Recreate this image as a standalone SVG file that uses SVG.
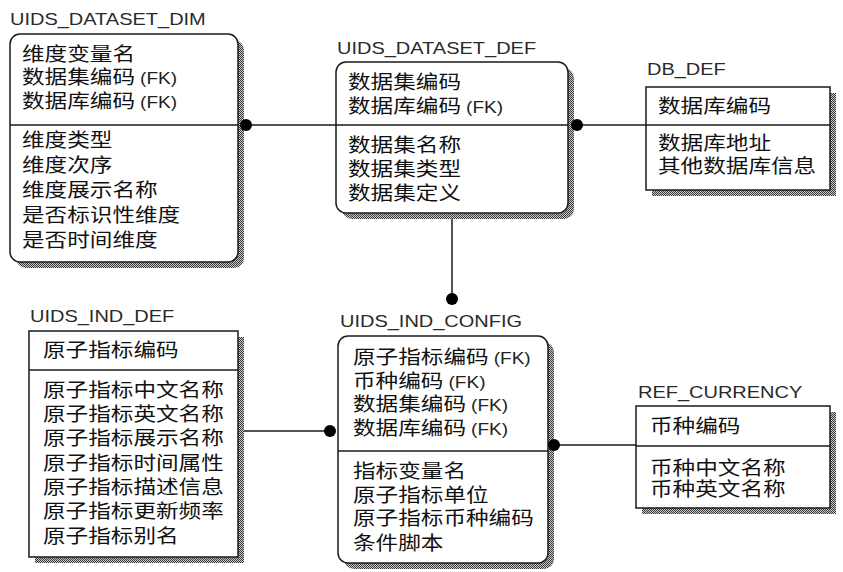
<svg xmlns="http://www.w3.org/2000/svg" width="843" height="572" viewBox="0 0 843 572">
<defs>
<pattern id="dither" width="2" height="2" patternUnits="userSpaceOnUse">
<rect width="2" height="2" fill="#c8c8c8"/>
<rect width="1" height="1" fill="#3a3a3a"/>
<rect x="1" y="1" width="1" height="1" fill="#3a3a3a"/>
</pattern>
<style>
.box{fill:#fff;stroke:#1a1a1a;stroke-width:1.5}
.shadow{fill:url(#dither);stroke:none}
.div{stroke:#1a1a1a;stroke-width:1.5}
.title{font-family:"Liberation Sans",Arial,sans-serif;font-size:16.8px;fill:#2a2a2a}
.t{font-family:"Noto Sans CJK SC","Noto Sans CJK TC",sans-serif;font-size:19px;fill:#111}
.fk{font-family:"Liberation Sans",Arial,sans-serif;font-size:16px;fill:#222}
.conn line{stroke:#1a1a1a;stroke-width:1.5}
.conn circle{fill:#000}
</style>
</defs>
<rect width="843" height="572" fill="#fff"/>

<g id="connectors" class="conn">
<line x1="246" y1="125" x2="336" y2="125"/>
<line x1="577" y1="125" x2="646" y2="125"/>
<line x1="452" y1="213" x2="452" y2="299"/>
<line x1="238" y1="431" x2="330" y2="431"/>
<line x1="554" y1="445" x2="636" y2="445"/>
</g>

<g id="UIDS_DATASET_DIM">
<g transform="translate(10 25) scale(1.19 1)"><text class="title" x="0" y="0">UIDS_DATASET_DIM</text></g>
<rect class="shadow" x="16" y="40" width="228" height="228" rx="10"/>
<rect class="box" x="10" y="34" width="228" height="228" rx="10"/>
<line class="div" x1="10" y1="125" x2="238" y2="125"/>
<g transform="translate(22 0) scale(1.19 1)">
<text class="t" x="0" y="61">维度变量名</text>
<text class="t" x="0" y="84">数据集编码 <tspan class="fk">(FK)</tspan></text>
<text class="t" x="0" y="108">数据库编码 <tspan class="fk">(FK)</tspan></text>
<text class="t" x="0" y="147">维度类型</text>
<text class="t" x="0" y="172">维度次序</text>
<text class="t" x="0" y="197">维度展示名称</text>
<text class="t" x="0" y="222">是否标识性维度</text>
<text class="t" x="0" y="247">是否时间维度</text>
</g>
</g>

<g id="UIDS_DATASET_DEF">
<g transform="translate(337 54) scale(1.19 1)"><text class="title" x="0" y="0">UIDS_DATASET_DEF</text></g>
<rect class="shadow" x="342" y="68" width="232" height="151" rx="10"/>
<rect class="box" x="336" y="62" width="232" height="151" rx="10"/>
<line class="div" x1="336" y1="125" x2="568" y2="125"/>
<g transform="translate(348 0) scale(1.19 1)">
<text class="t" x="0" y="89">数据集编码</text>
<text class="t" x="0" y="113">数据库编码 <tspan class="fk">(FK)</tspan></text>
<text class="t" x="0" y="152">数据集名称</text>
<text class="t" x="0" y="176">数据集类型</text>
<text class="t" x="0" y="200">数据集定义</text>
</g>
</g>

<g id="DB_DEF">
<g transform="translate(647 75) scale(1.19 1)"><text class="title" x="0" y="0">DB_DEF</text></g>
<rect class="shadow" x="652" y="93" width="184" height="103"/>
<rect class="box" x="646" y="87" width="184" height="103"/>
<line class="div" x1="646" y1="125" x2="830" y2="125"/>
<g transform="translate(658 0) scale(1.19 1)">
<text class="t" x="0" y="113">数据库编码</text>
<text class="t" x="0" y="150">数据库地址</text>
<text class="t" x="0" y="173">其他数据库信息</text>
</g>
</g>

<g id="UIDS_IND_DEF">
<g transform="translate(30 322) scale(1.19 1)"><text class="title" x="0" y="0">UIDS_IND_DEF</text></g>
<rect class="shadow" x="35" y="337" width="209" height="226"/>
<rect class="box" x="29" y="331" width="209" height="226"/>
<line class="div" x1="29" y1="370" x2="238" y2="370"/>
<g transform="translate(43 0) scale(1.19 1)">
<text class="t" x="0" y="357">原子指标编码</text>
<text class="t" x="0" y="397">原子指标中文名称</text>
<text class="t" x="0" y="421">原子指标英文名称</text>
<text class="t" x="0" y="445">原子指标展示名称</text>
<text class="t" x="0" y="470">原子指标时间属性</text>
<text class="t" x="0" y="494">原子指标描述信息</text>
<text class="t" x="0" y="518">原子指标更新频率</text>
<text class="t" x="0" y="543">原子指标别名</text>
</g>
</g>

<g id="UIDS_IND_CONFIG">
<g transform="translate(340 327) scale(1.19 1)"><text class="title" x="0" y="0">UIDS_IND_CONFIG</text></g>
<rect class="shadow" x="344" y="342" width="210" height="227" rx="10"/>
<rect class="box" x="338" y="336" width="210" height="227" rx="10"/>
<line class="div" x1="338" y1="451" x2="548" y2="451"/>
<g transform="translate(353 0) scale(1.19 1)">
<text class="t" x="0" y="364">原子指标编码 <tspan class="fk">(FK)</tspan></text>
<text class="t" x="0" y="388">币种编码 <tspan class="fk">(FK)</tspan></text>
<text class="t" x="0" y="411">数据集编码 <tspan class="fk">(FK)</tspan></text>
<text class="t" x="0" y="435">数据库编码 <tspan class="fk">(FK)</tspan></text>
<text class="t" x="0" y="478">指标变量名</text>
<text class="t" x="0" y="502">原子指标单位</text>
<text class="t" x="0" y="525">原子指标币种编码</text>
<text class="t" x="0" y="550">条件脚本</text>
</g>
</g>

<g id="REF_CURRENCY">
<g transform="translate(638 398) scale(1.19 1)"><text class="title" x="0" y="0">REF_CURRENCY</text></g>
<rect class="shadow" x="642" y="412" width="194" height="102"/>
<rect class="box" x="636" y="406" width="194" height="102"/>
<line class="div" x1="636" y1="446" x2="830" y2="446"/>
<g transform="translate(650 0) scale(1.19 1)">
<text class="t" x="0" y="433">币种编码</text>
<text class="t" x="0" y="475">币种中文名称</text>
<text class="t" x="0" y="496">币种英文名称</text>
</g>
</g>

<g id="connector-ends" class="conn">
<circle cx="246" cy="125" r="6"/>
<circle cx="577" cy="125" r="6"/>
<circle cx="452" cy="299" r="6"/>
<circle cx="330" cy="431" r="6"/>
<circle cx="554" cy="445" r="6"/>
</g>
</svg>
